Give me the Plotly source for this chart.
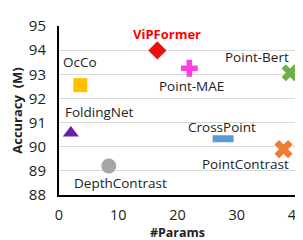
import plotly.graph_objects as go

methods = ["ViPFormer", "Point-MAE", "Point-Bert", "OcCo", "FoldingNet",
           "DepthContrast", "CrossPoint", "PointContrast"]
params = [16.6, 22.0, 39.0, 3.6, 2.0, 8.4, 27.7, 37.9]
accuracy = [93.99, 93.25, 93.06, 92.55, 90.57, 89.2, 90.33, 89.9]
colors = ["#e81010", "#ff3fe0", "#70ad47", "#ffc000", "#6a1fa8",
          "#a6a6a6", "#5b9bd5", "#ed7d31"]
symbols = ["diamond", "cross", "x", "square", "triangle-up",
           "circle", "line-ew-open", "x"]
sizes = [14, 14, 15, 14, 14, 15, 15, 16]
# label offsets in pixels relative to the marker
label_dx = [10, 2, -33, 0, 29, 12, -1, -38]
label_dy = [16, -18, 16, 23, 21, -17, 12, -15]

fig = go.Figure()
for i, m in enumerate(methods):
    mk = dict(color=colors[i], size=sizes[i], symbol=symbols[i])
    if symbols[i] == "line-ew-open":
        mk["line"] = dict(color=colors[i], width=7)
    elif symbols[i] in ("x", "cross"):
        mk["line"] = dict(width=0)
    fig.add_trace(go.Scatter(x=[params[i]], y=[accuracy[i]], mode="markers",
                             marker=mk, showlegend=False, cliponaxis=False))
    fig.add_annotation(x=params[i], y=accuracy[i],
                       text=(f"<b>{m}</b>" if m == "ViPFormer" else m),
                       showarrow=False, xshift=label_dx[i], yshift=label_dy[i],
                       font=dict(size=(13 if m == "ViPFormer" else 13.5),
                                 color=("#ff0000" if m == "ViPFormer" else "#222222"),
                                 family="Open Sans"))

fig.update_layout(
    width=303, height=240,
    margin=dict(l=49, r=10, t=7, b=53),
    plot_bgcolor="white", paper_bgcolor="white",
    font=dict(family="Open Sans", size=15, color="#222222"),
    xaxis=dict(range=[0, 40], tickvals=[0, 10, 20, 30, 40], showgrid=False,
               showline=True, linecolor="black", linewidth=2, zeroline=False,
               ticks="", ticklabelstandoff=6, ticklabeloverflow="allow",
               tickfont=dict(size=14.5),
               title=dict(text="<b>#Params</b>", standoff=2, font=dict(size=12.5))),
    yaxis=dict(range=[88, 95], tickvals=[88, 89, 90, 91, 92, 93, 94, 95],
               showgrid=True, gridcolor="#d9d9d9", gridwidth=1,
               showline=True, linecolor="black", linewidth=2, zeroline=False,
               ticks="", ticklabelstandoff=8, ticklabeloverflow="allow",
               title=dict(text="<b>Accuracy  (M)</b>", standoff=5, font=dict(size=13))),
)

fig.write_html("out.html")
